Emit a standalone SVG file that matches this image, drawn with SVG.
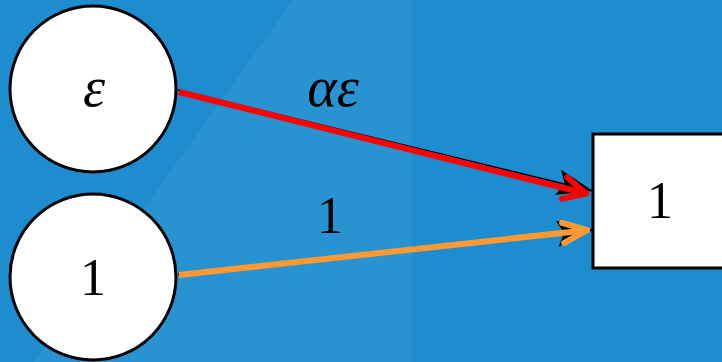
<svg xmlns="http://www.w3.org/2000/svg" width="722" height="362" viewBox="0 0 722 362">
<style>
.node{fill:#ffffff;stroke:#000000;stroke-width:3}
.t{font-family:"Liberation Serif","Times New Roman",serif;font-size:52px;fill:#000000;text-anchor:middle}
.it{font-style:italic;font-size:56px}
.under{stroke:#000000;stroke-width:1.5;fill:none}
</style>
<defs>
<marker id="blk" markerUnits="userSpaceOnUse" markerWidth="44" markerHeight="34" viewBox="-40 -17 44 34" refX="0" refY="0" orient="auto" overflow="visible">
<path d="M0 0 L-36 -13 L-29 0 L-36 13 Z" fill="#000000"/>
</marker>
<marker id="redV" markerUnits="userSpaceOnUse" markerWidth="40" markerHeight="30" viewBox="-36 -15 40 30" refX="0" refY="0" orient="auto" overflow="visible">
<path d="M-24 -11 L-2 0 L-24 11" fill="none" stroke="#ff0000" stroke-width="6" stroke-linejoin="round" stroke-linecap="round"/>
</marker>
<marker id="orgV" markerUnits="userSpaceOnUse" markerWidth="40" markerHeight="30" viewBox="-36 -15 40 30" refX="0" refY="0" orient="auto" overflow="visible">
<path d="M-26 -10 L-2 0 L-26 10" fill="none" stroke="#ff9a33" stroke-width="6" stroke-linejoin="round" stroke-linecap="round"/>
</marker>
</defs>
<rect x="0" y="0" width="722" height="362" fill="#1e8dcf"/>
<polygon points="293,0 412,0 412,362 34,362" fill="#2993d1"/>
<g id="connectors">
<line class="under" x1="178" y1="90" x2="593" y2="191" marker-end="url(#blk)"/>
<line class="under" x1="178" y1="274" x2="593" y2="230" marker-end="url(#blk)"/>
<line x1="179" y1="92" x2="588" y2="194" stroke="#ff0000" stroke-width="6" marker-end="url(#redV)"/>
<line x1="179" y1="275" x2="589" y2="230" stroke="#ff9a33" stroke-width="6" marker-end="url(#orgV)"/>
<text class="t it" x="333" y="106">αε</text>
<text class="t" x="330" y="233">1</text>
</g>
<g id="node-eps">
<circle class="node" cx="93" cy="89" r="83"/>
<text class="t it" x="94" y="106">ε</text>
</g>
<g id="node-one">
<circle class="node" cx="93" cy="277" r="83"/>
<text class="t" x="93" y="295">1</text>
</g>
<g id="node-out">
<rect class="node" x="593" y="134" width="140" height="134"/>
<text class="t" x="660" y="218">1</text>
</g>
</svg>
